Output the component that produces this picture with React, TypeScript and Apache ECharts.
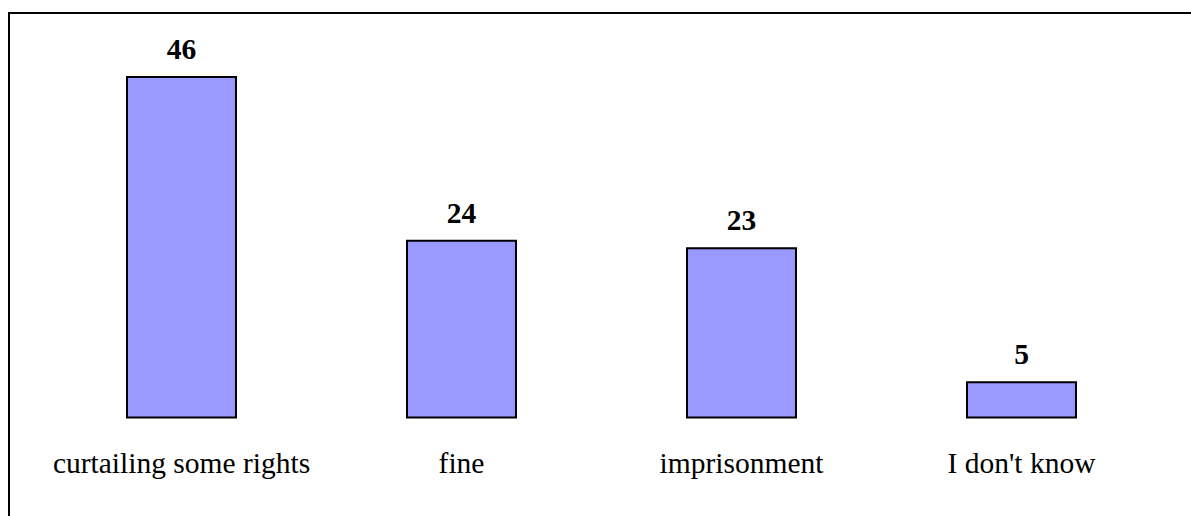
import React, { useEffect, useRef } from "react";
import * as echarts from "echarts";

const categories = ["curtailing some rights", "fine", "imprisonment", "I don't know"];
const values = [46, 24, 23, 5];

const FONT = "Times New Roman, Liberation Serif, serif";

export default function App() {
  const ref = useRef<HTMLDivElement>(null);
  useEffect(() => {
    document.body.style.margin = "0";
    const chart = echarts.init(ref.current!, null, { renderer: "svg" });
    chart.setOption({
      animation: false,
      backgroundColor: "#ffffff",
      textStyle: { fontFamily: FONT },
      grid: { left: 41.5, width: 1120, top: 46.2, bottom: 97.5, containLabel: false },
      xAxis: {
        type: "category",
        data: categories,
        axisLine: { show: false },
        axisTick: { show: false },
        axisLabel: {
          margin: 29,
          fontFamily: FONT,
          fontSize: 29.5,
          color: "#000000",
          interval: 0,
        },
      },
      yAxis: {
        type: "value",
        min: 0,
        max: 50,
        show: false,
        splitLine: { show: false },
      },
      graphic: [
        {
          type: "rect",
          shape: { x: 9, y: 13, width: 1400, height: 800 },
          style: { fill: "none", stroke: "#000000", lineWidth: 2 },
          silent: true,
        },
      ],
      series: [
        {
          type: "bar",
          data: values,
          barWidth: 111,
          itemStyle: { color: "#9999FF", borderColor: "#000000", borderWidth: 2 },
          label: {
            show: true,
            position: "top",
            distance: 12,
            fontFamily: FONT,
            fontWeight: "bold",
            fontSize: 29.5,
            color: "#000000",
          },
        },
      ],
    });
    return () => chart.dispose();
  }, []);
  return <div ref={ref} style={{ width: 1191, height: 516 }} />;
}
